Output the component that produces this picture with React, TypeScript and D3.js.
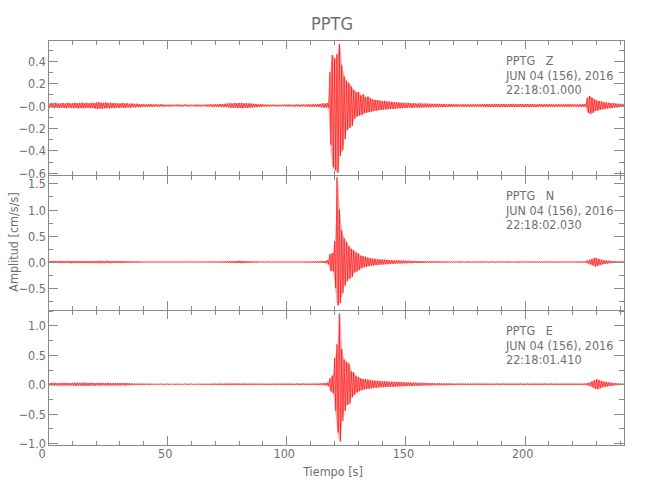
import React from "react";
import * as d3 from "d3";

// ---- data: per-second peak (max) and trough (min) values read from the record ----
const zMax = [
  .018,.022,.02,.025,.018,.02,.022,.019,.024,.02,
  .022,.025,.02,.023,.026,.021,.024,.02,.025,.022,
  .028,.03,.026,.024,.027,.022,.025,.02,.022,.018,
  .02,.022,.018,.02,.016,.018,.015,.017,.014,.012,
  .012,.01,.013,.011,.01,.012,.009,.011,.01,.008,
  .008,.009,.007,.008,.01,.008,.007,.009,.008,.007,
  .008,.007,.009,.008,.007,.008,.01,.009,.011,.01,
  .012,.011,.014,.013,.016,.018,.02,.019,.022,.02,
  .024,.022,.02,.021,.018,.019,.016,.014,.012,.011,
  .01,.009,.008,.009,.008,.007,.008,.007,.008,.009,
  .008,.009,.007,.008,.01,.009,.008,.01,.009,.011,
  .01,.012,.011,.014,.015,.02,.018,.022,.3,.45,
  .42,.46,.55,.36,.26,.22,.2,.17,.14,.12,
  .12,.09,.1,.075,.08,.065,.055,.05,.048,.045,
  .04,.042,.036,.035,.032,.03,.028,.027,.025,.024,
  .022,.023,.02,.021,.019,.018,.02,.017,.018,.016,
  .017,.015,.016,.014,.015,.013,.014,.012,.013,.012,
  .012,.011,.012,.01,.011,.012,.01,.011,.01,.012,
  .011,.012,.013,.012,.014,.013,.012,.015,.013,.012,
  .014,.013,.012,.014,.013,.015,.012,.013,.014,.012,
  .013,.012,.014,.013,.012,.011,.013,.012,.011,.012,
  .011,.012,.01,.011,.012,.01,.011,.012,.011,.012,
  .011,.01,.012,.011,.013,.012,.07,.085,.07,.055,
  .045,.04,.035,.03,.028,.025,.022,.02,.018,.016,
  .015,.014,
];
const zMin = [
  -.02,-.018,-.024,-.02,-.022,-.019,-.021,-.025,-.018,-.022,
  -.024,-.02,-.026,-.022,-.025,-.023,-.02,-.024,-.022,-.026,
  -.03,-.027,-.028,-.025,-.024,-.026,-.022,-.024,-.02,-.021,
  -.018,-.02,-.021,-.017,-.019,-.015,-.017,-.014,-.015,-.013,
  -.011,-.012,-.01,-.012,-.011,-.009,-.011,-.01,-.009,-.009,
  -.009,-.008,-.008,-.007,-.009,-.008,-.008,-.007,-.009,-.008,
  -.007,-.008,-.008,-.009,-.008,-.007,-.009,-.01,-.01,-.012,
  -.011,-.013,-.012,-.015,-.014,-.017,-.019,-.021,-.02,-.023,
  -.022,-.024,-.019,-.02,-.02,-.017,-.015,-.015,-.013,-.012,
  -.009,-.01,-.009,-.008,-.007,-.008,-.008,-.008,-.007,-.008,
  -.009,-.008,-.008,-.009,-.009,-.01,-.009,-.009,-.01,-.01,
  -.011,-.011,-.013,-.012,-.016,-.018,-.02,-.02,-.35,-.55,
  -.58,-.6,-.45,-.4,-.3,-.22,-.2,-.18,-.12,-.1,
  -.09,-.085,-.07,-.065,-.06,-.055,-.05,-.048,-.042,-.04,
  -.038,-.035,-.034,-.03,-.03,-.028,-.026,-.025,-.024,-.022,
  -.021,-.02,-.021,-.019,-.018,-.019,-.017,-.018,-.016,-.017,
  -.015,-.016,-.014,-.015,-.013,-.014,-.013,-.012,-.012,-.013,
  -.011,-.012,-.01,-.011,-.012,-.01,-.011,-.01,-.011,-.011,
  -.012,-.011,-.012,-.013,-.012,-.014,-.013,-.012,-.014,-.013,
  -.012,-.014,-.013,-.012,-.014,-.013,-.013,-.012,-.013,-.013,
  -.012,-.013,-.012,-.012,-.013,-.012,-.011,-.012,-.012,-.011,
  -.012,-.011,-.011,-.012,-.01,-.011,-.012,-.01,-.012,-.011,
  -.01,-.011,-.011,-.012,-.011,-.013,-.065,-.075,-.065,-.05,
  -.045,-.038,-.034,-.03,-.026,-.024,-.022,-.019,-.017,-.015,
  -.014,-.013,
];
const nMax = [
  .02,.018,.022,.02,.019,.021,.018,.02,.022,.019,
  .02,.022,.019,.021,.02,.018,.02,.019,.021,.02,
  .022,.024,.021,.02,.023,.02,.019,.021,.018,.02,
  .018,.02,.017,.016,.018,.015,.014,.016,.013,.012,
  .012,.011,.012,.01,.011,.01,.012,.01,.011,.01,
  .01,.011,.009,.01,.011,.01,.009,.01,.011,.01,
  .01,.011,.01,.009,.011,.01,.012,.011,.013,.012,
  .013,.012,.014,.015,.014,.016,.018,.017,.02,.022,
  .024,.022,.02,.018,.016,.015,.014,.013,.012,.011,
  .01,.011,.01,.009,.01,.011,.01,.009,.01,.011,
  .01,.011,.01,.012,.011,.01,.012,.011,.012,.013,
  .012,.014,.013,.015,.016,.018,.02,.04,.15,.17,
  .4,1.62,1.0,.6,.45,.38,.3,.25,.22,.18,
  .16,.12,.11,.1,.08,.07,.065,.06,.055,.05,
  .048,.045,.042,.04,.036,.035,.032,.03,.028,.027,
  .025,.024,.022,.021,.02,.019,.018,.018,.017,.016,
  .016,.015,.015,.014,.014,.013,.013,.012,.012,.012,
  .011,.012,.013,.011,.012,.011,.013,.012,.011,.012,
  .012,.011,.013,.012,.011,.012,.013,.011,.012,.012,
  .011,.012,.012,.013,.011,.012,.011,.013,.012,.011,
  .012,.011,.012,.013,.012,.011,.012,.012,.011,.013,
  .012,.011,.012,.011,.013,.012,.011,.012,.012,.011,
  .012,.011,.013,.012,.014,.012,.03,.045,.06,.08,
  .07,.055,.045,.035,.03,.025,.02,.018,.016,.015,
  .014,.013,
];
const nMin = [
  -.019,-.021,-.02,-.018,-.022,-.02,-.021,-.019,-.02,-.022,
  -.021,-.019,-.022,-.02,-.021,-.02,-.019,-.022,-.02,-.021,
  -.023,-.021,-.024,-.022,-.02,-.022,-.021,-.019,-.02,-.018,
  -.019,-.017,-.018,-.015,-.016,-.014,-.015,-.013,-.014,-.012,
  -.011,-.012,-.01,-.011,-.012,-.01,-.011,-.011,-.01,-.011,
  -.01,-.009,-.011,-.01,-.01,-.009,-.011,-.01,-.009,-.01,
  -.011,-.01,-.01,-.011,-.01,-.012,-.011,-.012,-.012,-.013,
  -.012,-.014,-.013,-.014,-.016,-.015,-.017,-.019,-.021,-.02,
  -.022,-.023,-.019,-.017,-.017,-.014,-.013,-.014,-.011,-.012,
  -.011,-.01,-.009,-.011,-.01,-.009,-.011,-.01,-.011,-.01,
  -.011,-.01,-.012,-.011,-.01,-.012,-.011,-.013,-.012,-.012,
  -.013,-.013,-.015,-.014,-.017,-.019,-.022,-.045,-.17,-.18,
  -.5,-.83,-.78,-.6,-.45,-.36,-.32,-.28,-.2,-.18,
  -.15,-.12,-.1,-.09,-.08,-.07,-.065,-.058,-.052,-.05,
  -.046,-.044,-.04,-.038,-.035,-.033,-.03,-.029,-.027,-.025,
  -.024,-.022,-.021,-.02,-.019,-.018,-.018,-.017,-.016,-.016,
  -.015,-.015,-.014,-.014,-.013,-.013,-.012,-.012,-.012,-.011,
  -.012,-.011,-.012,-.013,-.011,-.012,-.012,-.011,-.013,-.012,
  -.011,-.012,-.012,-.011,-.013,-.012,-.011,-.012,-.013,-.011,
  -.012,-.011,-.013,-.012,-.012,-.011,-.012,-.013,-.011,-.012,
  -.011,-.012,-.012,-.011,-.013,-.012,-.011,-.012,-.012,-.011,
  -.012,-.013,-.011,-.012,-.011,-.012,-.013,-.011,-.012,-.012,
  -.011,-.012,-.012,-.013,-.012,-.013,-.028,-.045,-.065,-.085,
  -.075,-.06,-.045,-.036,-.03,-.024,-.021,-.018,-.016,-.014,
  -.013,-.014,
];
const eMax = [
  .02,.022,.025,.023,.02,.024,.021,.025,.022,.02,
  .024,.026,.023,.027,.025,.028,.024,.022,.025,.023,
  .022,.024,.02,.023,.021,.024,.02,.022,.019,.021,
  .02,.022,.018,.02,.016,.015,.014,.013,.012,.012,
  .011,.012,.01,.011,.01,.009,.01,.011,.009,.01,
  .009,.01,.008,.009,.01,.009,.008,.009,.01,.009,
  .009,.008,.009,.01,.009,.01,.011,.01,.011,.012,
  .011,.012,.013,.012,.014,.013,.015,.014,.013,.015,
  .014,.013,.015,.014,.013,.012,.013,.012,.011,.012,
  .011,.01,.011,.012,.011,.012,.011,.012,.013,.012,
  .012,.013,.012,.011,.013,.012,.013,.014,.013,.012,
  .013,.014,.013,.015,.016,.018,.02,.03,.1,.15,
  .45,.68,1.2,.6,.42,.38,.35,.22,.2,.14,
  .12,.1,.09,.085,.08,.07,.065,.06,.058,.055,
  .05,.05,.048,.045,.044,.042,.04,.038,.036,.034,
  .032,.03,.029,.028,.027,.026,.025,.024,.022,.021,
  .02,.02,.019,.018,.018,.017,.016,.016,.015,.015,
  .014,.013,.014,.013,.012,.014,.013,.012,.013,.014,
  .013,.012,.013,.014,.012,.013,.012,.014,.013,.012,
  .013,.014,.012,.013,.012,.013,.014,.012,.013,.012,
  .012,.013,.012,.014,.013,.012,.013,.012,.014,.013,
  .012,.013,.012,.013,.014,.012,.013,.012,.013,.012,
  .013,.012,.013,.014,.013,.014,.02,.03,.05,.07,
  .085,.07,.055,.045,.04,.032,.028,.022,.018,.016,
  .014,.013,
];
const eMin = [
  -.022,-.02,-.024,-.021,-.025,-.022,-.024,-.02,-.023,-.021,
  -.025,-.023,-.027,-.024,-.026,-.024,-.027,-.023,-.021,-.024,
  -.021,-.022,-.023,-.02,-.022,-.021,-.02,-.021,-.02,-.019,
  -.021,-.018,-.02,-.017,-.015,-.016,-.013,-.014,-.012,-.011,
  -.012,-.01,-.011,-.01,-.009,-.011,-.01,-.009,-.01,-.009,
  -.01,-.009,-.009,-.01,-.008,-.009,-.01,-.009,-.008,-.009,
  -.008,-.009,-.01,-.009,-.01,-.011,-.01,-.011,-.012,-.011,
  -.012,-.013,-.012,-.013,-.013,-.015,-.014,-.013,-.014,-.014,
  -.013,-.014,-.014,-.013,-.012,-.013,-.012,-.011,-.012,-.011,
  -.012,-.011,-.012,-.011,-.012,-.011,-.012,-.013,-.012,-.011,
  -.013,-.012,-.013,-.012,-.012,-.014,-.012,-.013,-.014,-.013,
  -.012,-.013,-.014,-.014,-.015,-.017,-.021,-.03,-.12,-.15,
  -.45,-.82,-.97,-.62,-.45,-.35,-.33,-.22,-.18,-.14,
  -.12,-.1,-.09,-.08,-.075,-.07,-.062,-.058,-.055,-.052,
  -.05,-.047,-.045,-.043,-.042,-.04,-.038,-.036,-.034,-.032,
  -.03,-.029,-.028,-.027,-.026,-.025,-.024,-.022,-.021,-.02,
  -.019,-.019,-.018,-.017,-.017,-.016,-.016,-.015,-.015,-.014,
  -.013,-.014,-.013,-.012,-.013,-.014,-.012,-.013,-.013,-.012,
  -.014,-.013,-.012,-.013,-.014,-.012,-.013,-.013,-.012,-.014,
  -.012,-.013,-.014,-.012,-.013,-.012,-.013,-.014,-.012,-.013,
  -.013,-.012,-.013,-.012,-.014,-.013,-.012,-.013,-.012,-.013,
  -.012,-.014,-.013,-.012,-.013,-.012,-.014,-.013,-.012,-.013,
  -.012,-.013,-.012,-.013,-.014,-.013,-.022,-.032,-.055,-.075,
  -.085,-.068,-.052,-.044,-.038,-.03,-.026,-.021,-.018,-.015,
  -.014,-.013,
];

const components = ["Z", "N", "E"];
const startTimes = ["22:18:01.000", "22:18:02.030", "22:18:01.410"];
const stationName = "PPTG";
const dateLabel = "JUN 04 (156), 2016";
const yDomains = [[-0.62, 0.585], [-0.915, 1.66], [-1.03, 1.26]];
const yTickValues = [
  [0.4, 0.2, 0, -0.2, -0.4, -0.6],
  [1.5, 1.0, 0.5, 0, -0.5],
  [1.0, 0.5, 0, -0.5, -1.0],
];
const yTickLabels = [
  ["0.4", "0.2", "\u22120.0", "\u22120.2", "\u22120.4", "\u22120.6"],
  ["1.5", "1.0", "0.5", "0.0", "\u22120.5"],
  ["1.0", "0.5", "0.0", "\u22120.5", "\u22121.0"],
];
const yMinorSteps = [0.1, 0.25, 0.25];
const xTickValues = [0, 50, 100, 150, 200];
const xTickLabels = ["0", "50", "100", "150", "200"];
const xDomain = [0, 241.7];

const W = 650, H = 500;
const LEFT = 48, RIGHT = 624;
const PANEL_TOPS = [40, 175, 310];
const PANEL_H = 135;
const AXIS = "#8a8a8a";
const TEXT = "#707070";
const FONT = "'Liberation Sans Narrow', 'DejaVu Sans Condensed', 'Liberation Sans', sans-serif";

const series = [
  { max: zMax, min: zMin },
  { max: nMax, min: nMin },
  { max: eMax, min: eMin },
];

export default function App() {
  const x = d3.scaleLinear().domain(xDomain).range([LEFT, RIGHT]);
  const xMinor = d3.range(0, 241, 10);

  return (
    <svg width={W} height={H} style={{ position: "absolute", left: 0, top: 0, background: "#fff" }}
      fontFamily={FONT}>
      <defs>
        {PANEL_TOPS.map((top, i) => (
          <clipPath id={`clip${i}`} key={i}>
            <rect x={LEFT} y={top} width={RIGHT - LEFT} height={PANEL_H} />
          </clipPath>
        ))}
      </defs>
      <text x={332} y={30} textAnchor="middle" fontSize={18} fill={TEXT}>{stationName}</text>
      {PANEL_TOPS.map((top, i) => {
        const y = d3.scaleLinear().domain(yDomains[i]).range([top + PANEL_H, top]);
        const pts: [number, number][] = [];
        series[i].max.forEach((v, k) => {
          pts.push([k + 0.25, v]);
          pts.push([k + 0.75, series[i].min[k]]);
        });
        const bins = series[i].max.map((v, k) => ({ t: k, hi: v, lo: series[i].min[k] }));
        const line = d3.line<[number, number]>().x(d => x(d[0])).y(d => y(d[1]));
        const area = d3.area<{ t: number; hi: number; lo: number }>()
          .x(d => x(d.t + 0.5)).y0(d => y(d.lo)).y1(d => y(d.hi)).curve(d3.curveMonotoneX);
        const [d0, d1] = yDomains[i];
        const step = yMinorSteps[i];
        const minor = d3.range(Math.ceil(d0 / step) * step, d1 + 1e-9, step);
        const bottom = top + PANEL_H;
        return (
          <g key={i}>
            <g clipPath={`url(#clip${i})`}>
              <path d={area(bins) || ""} fill="#ff0000" fillOpacity={0.35} stroke="none" />
              <path d={line(pts) || ""} fill="none" stroke="#ff0000" strokeWidth={0.7}
                strokeOpacity={0.85} />
            </g>
            <rect x={LEFT + 0.5} y={top + 0.5} width={RIGHT - LEFT} height={PANEL_H}
              fill="none" stroke={AXIS} strokeWidth={1} shapeRendering="crispEdges" />
            {xMinor.map(t => {
              const major = t % 50 === 0;
              const len = major ? 9 : 4.5;
              const xx = Math.round(x(t)) + 0.5;
              return (
                <g key={`xt${t}`} stroke={AXIS} shapeRendering="crispEdges">
                  <line x1={xx} x2={xx} y1={top} y2={top + len} />
                  <line x1={xx} x2={xx} y1={bottom} y2={bottom - len} />
                </g>
              );
            })}
            {minor.map((v, k) => {
              const yy = Math.round(y(v)) + 0.5;
              return (
                <g key={`ym${k}`} stroke={AXIS} shapeRendering="crispEdges">
                  <line x1={LEFT} x2={LEFT + 5} y1={yy} y2={yy} />
                  <line x1={RIGHT} x2={RIGHT - 5} y1={yy} y2={yy} />
                </g>
              );
            })}
            {yTickValues[i].map((v, k) => {
              const yy = Math.round(y(v)) + 0.5;
              return (
                <g key={`yt${k}`}>
                  <line x1={LEFT} x2={LEFT + 10} y1={yy} y2={yy} stroke={AXIS} shapeRendering="crispEdges" />
                  <line x1={RIGHT} x2={RIGHT - 10} y1={yy} y2={yy} stroke={AXIS} shapeRendering="crispEdges" />
                  <text x={LEFT - 2} y={yy + 4.5} textAnchor="end" fontSize={12.5} fill={TEXT}>
                    {yTickLabels[i][k]}
                  </text>
                </g>
              );
            })}
            <g fontSize={12.5} fill={TEXT}>
              <text x={506} y={top + 25} xmlSpace="preserve">{`${stationName}   ${components[i]}`}</text>
              <text x={506} y={top + 40}>{dateLabel}</text>
              <text x={506} y={top + 54}>{startTimes[i]}</text>
            </g>
          </g>
        );
      })}
      {xTickValues.map((t, k) => (
        <text key={`xl${k}`} x={x(t) - (k === 0 ? 6 : 2)} y={458} textAnchor="middle" fontSize={12.5} fill={TEXT}>
          {xTickLabels[k]}
        </text>
      ))}
      <text x={333} y={476} textAnchor="middle" fontSize={12.5} fill={TEXT}>Tiempo [s]</text>
      <text transform="translate(18,242) rotate(-90)" textAnchor="middle" fontSize={12.5} fill={TEXT}>
        Amplitud [cm/s/s]
      </text>
    </svg>
  );
}
